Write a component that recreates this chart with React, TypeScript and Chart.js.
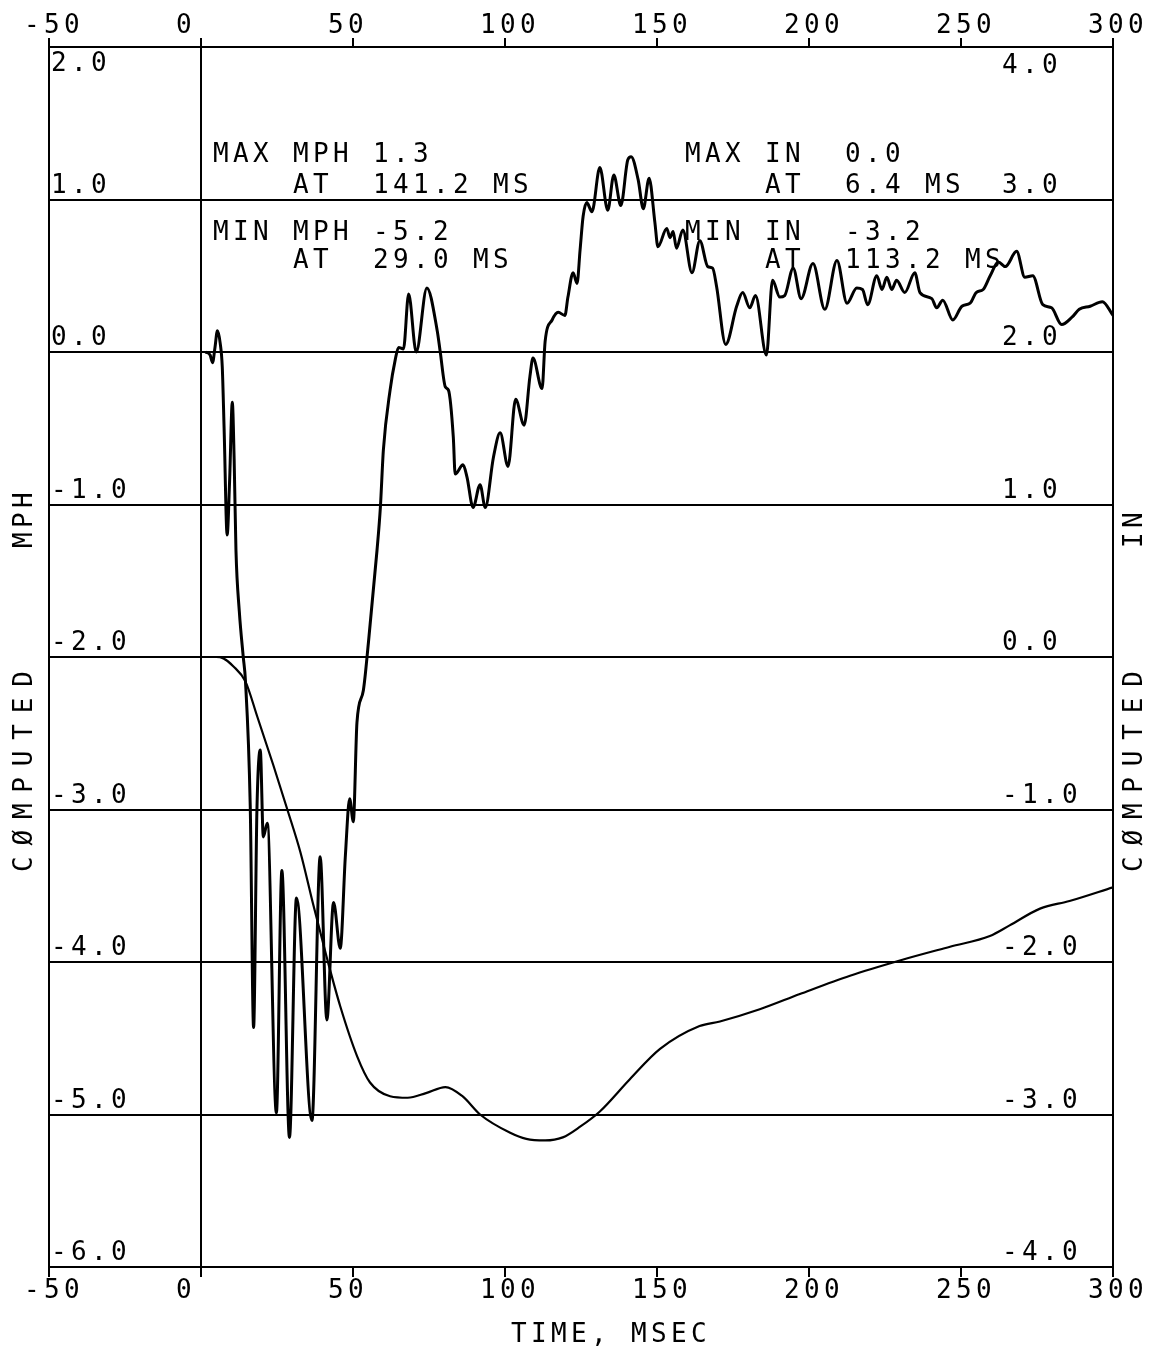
import React, { useEffect, useRef } from "react";
import { Chart, registerables } from "chart.js";

Chart.register(...registerables);

// ---- data ----
const xTicks = [-50, 0, 50, 100, 150, 200, 250, 300];
const mphTicks = [2, 1, 0, -1, -2, -3, -4, -5, -6];
const inTicks = [4, 3, 2, 1, 0, -1, -2, -3, -4];

const velT = [
  1.5, 3.0, 3.8, 4.6, 5.4, 6.3, 7.0, 7.6, 8.6, 9.4,
  10.3, 10.9, 11.5, 12.6, 13.9, 14.6, 16.2, 17.3, 18.4, 19.5,
  20.5, 21.8, 24.8, 26.6, 29.1, 31.4, 36.5, 39.2, 41.4, 43.6,
  45.8, 47.5, 48.9, 50.1, 51.3, 53.4, 55.1, 57.9, 59.0, 60.0,
  62.2, 63.9, 65.0, 66.6, 68.3, 70.8, 74.3, 77.7, 78.7, 80.4,
  81.4, 83.0, 83.6, 86.2, 87.5, 89.5, 91.8, 93.5, 96.2, 98.4,
  101.0, 103.5, 106.3, 108.2, 109.2, 112.2, 113.2, 115.5, 117.5, 119.7,
  120.7, 122.4, 123.7, 124.7, 125.7, 126.9, 128.6, 131.2, 133.8, 135.8,
  138.1, 140.4, 141.5, 143.8, 145.5, 147.4, 149.3, 150.3, 153.2, 154.3,
  155.3, 156.4, 158.5, 161.5, 164.1, 166.7, 168.3, 169.6, 172.6, 176.2,
  178.2, 180.5, 182.4, 186.0, 188.0, 190.4, 192.0, 194.8, 197.4, 201.3,
  205.2, 209.2, 212.5, 215.7, 217.6, 219.3, 222.3, 224.0, 225.6, 227.2,
  228.8, 231.5, 234.8, 236.5, 240.4, 242.0, 244.0, 247.3, 250.3, 253.0,
  255.0, 257.3, 259.6, 262.3, 264.6, 268.3, 271.0, 273.6, 276.9, 279.8,
  283.1, 286.6, 288.9, 292.5, 296.5, 300.0,
];
const velMph = [
  0.0, -0.02, -0.07, 0.03, 0.14, 0.06, -0.1, -0.5, -1.2, -0.85,
  -0.33, -0.7, -1.3, -1.7, -2.0, -2.15, -2.98, -4.43, -3.0, -2.61,
  -3.18, -3.09, -4.99, -3.4, -5.15, -3.58, -5.04, -3.31, -4.38, -3.61,
  -3.91, -3.3, -2.93, -3.08, -2.43, -2.22, -1.9, -1.3, -1.02, -0.64,
  -0.25, -0.05, 0.03, 0.02, 0.38, 0.0, 0.42, 0.14, 0.0, -0.23,
  -0.25, -0.56, -0.8, -0.74, -0.82, -1.02, -0.87, -1.02, -0.69, -0.53,
  -0.75, -0.31, -0.48, -0.16, -0.04, -0.24, 0.07, 0.21, 0.26, 0.24,
  0.36, 0.52, 0.45, 0.67, 0.89, 0.98, 0.92, 1.21, 0.93, 1.16,
  0.96, 1.26, 1.28, 1.13, 0.94, 1.14, 0.85, 0.69, 0.81, 0.75,
  0.79, 0.68, 0.8, 0.52, 0.73, 0.56, 0.55, 0.43, 0.05, 0.3,
  0.39, 0.29, 0.37, -0.02, 0.47, 0.36, 0.37, 0.55, 0.35, 0.58,
  0.28, 0.6, 0.32, 0.42, 0.41, 0.31, 0.5, 0.41, 0.49, 0.41,
  0.47, 0.39, 0.52, 0.39, 0.35, 0.29, 0.34, 0.21, 0.3, 0.32,
  0.39, 0.41, 0.5, 0.59, 0.56, 0.66, 0.49, 0.5, 0.31, 0.29,
  0.18, 0.23, 0.28, 0.3, 0.33, 0.24,
];

const dispT = [
  1.5, 5.0, 7.4, 10.6, 14.6, 18.5, 23.8, 28.4, 32.7, 37.0,
  41.5, 45.8, 51.4, 55.6, 62.2, 68.0, 74.0, 80.4, 86.0, 91.8,
  101.7, 107.0, 113.2, 119.0, 124.7, 131.2, 141.0, 151.0, 164.0, 170.7,
  183.8, 197.0, 213.5, 229.9, 246.4, 259.5, 266.0, 276.0, 285.7, 300.0,
];
const dispIn = [
  0.0, 0.0, -0.01, -0.06, -0.16, -0.39, -0.71, -1.0, -1.28, -1.63,
  -1.98, -2.29, -2.62, -2.79, -2.88, -2.89, -2.86, -2.82, -2.88, -3.0,
  -3.12, -3.16, -3.17, -3.15, -3.08, -2.98, -2.77, -2.57, -2.42, -2.39,
  -2.31, -2.21, -2.09, -1.99, -1.9, -1.83, -1.76, -1.65, -1.6, -1.51,
];

const leftNotes = ["MAX MPH 1.3", "    AT  141.2 MS", "MIN MPH -5.2", "    AT  29.0 MS"];
const rightNotes = ["MAX IN  0.0", "    AT  6.4 MS", "MIN IN  -3.2", "    AT  113.2 MS"];
const noteBaselines = [162, 193, 240, 268];
const xTitle = "TIME, MSEC";
const yTitleWord = "CØMPUTED";
const yLeftUnit = "MPH";
const yRightUnit = "IN";

const FONT = '26px "DejaVu Sans Mono"';

const textPlugin = {
  id: "plotterText",
  afterDraw(chart: any) {
    const ctx = chart.ctx as CanvasRenderingContext2D;
    const sx = chart.scales.x;
    const sy = chart.scales.y;
    const sy2 = chart.scales.y2;
    const area = chart.chartArea;
    ctx.save();

    // outward tick marks on top and bottom axes
    ctx.strokeStyle = "#000";
    ctx.lineWidth = 2;
    xTicks.forEach((v) => {
      const px = Math.round(sx.getPixelForValue(v)) + 0;
      ctx.beginPath();
      ctx.moveTo(px, area.top - 9);
      ctx.lineTo(px, area.top);
      ctx.moveTo(px, area.bottom);
      ctx.lineTo(px, area.bottom + 10);
      ctx.stroke();
    });

    ctx.fillStyle = "#000";
    ctx.font = FONT;
    (ctx as any).letterSpacing = "4.35px";
    ctx.textAlign = "left";
    ctx.textBaseline = "alphabetic";

    // x tick labels top & bottom
    xTicks.forEach((v) => {
      const px = sx.getPixelForValue(v) - 25;
      ctx.fillText(String(v), px, area.top - 14);
      ctx.fillText(String(v), px, area.bottom + 31);
    });
    // left MPH labels
    mphTicks.forEach((v) => {
      const py = sy.getPixelForValue(v);
      const by = v === mphTicks[0] ? py + 24 : py - 7;
      ctx.fillText(v.toFixed(1), area.left + 2, by);
    });
    // right IN labels
    inTicks.forEach((v) => {
      const py = sy2.getPixelForValue(v);
      const by = v === inTicks[0] ? py + 26 : py - 7;
      ctx.fillText(v.toFixed(1), area.right - 111, by);
    });
    // annotations
    leftNotes.forEach((s, i) => ctx.fillText(s, 213, noteBaselines[i]));
    rightNotes.forEach((s, i) => ctx.fillText(s, 685, noteBaselines[i]));
    // x title
    ctx.fillText(xTitle, 511, area.bottom + 75);

    // rotated y titles
    const drawRot = (s: string, x: number, y: number, ls: string) => {
      ctx.save();
      (ctx as any).letterSpacing = ls;
      ctx.translate(x, y);
      ctx.rotate(-Math.PI / 2);
      ctx.fillText(s, 0, 0);
      ctx.restore();
    };
    drawRot(yTitleWord, 32, 872, "10.8px");
    drawRot(yLeftUnit, 32, 548, "4.35px");
    drawRot(yTitleWord, 1142, 872, "10.8px");
    drawRot(yRightUnit, 1142, 548, "4.35px");
    ctx.restore();
  },
};

export default function App() {
  const ref = useRef<HTMLCanvasElement | null>(null);
  useEffect(() => {
    if (!ref.current) return;
    const chart = new Chart(ref.current, {
      type: "line",
      data: {
        datasets: [
          {
            label: "MPH",
            data: velT.map((t, i) => ({ x: t, y: velMph[i] })),
            xAxisID: "x",
            yAxisID: "y",
            borderColor: "#000",
            borderWidth: 3,
            pointRadius: 0,
            fill: false,
            cubicInterpolationMode: "monotone",
          },
          {
            label: "IN",
            data: dispT.map((t, i) => ({ x: t, y: dispIn[i] })),
            xAxisID: "x",
            yAxisID: "y2",
            borderColor: "#000",
            borderWidth: 2.2,
            pointRadius: 0,
            fill: false,
            cubicInterpolationMode: "monotone",
          },
        ],
      },
      options: {
        responsive: false,
        animation: false,
        layout: { padding: 0 },
        plugins: { legend: { display: false }, tooltip: { enabled: false } },
        scales: {
          x: {
            type: "linear",
            position: "bottom",
            min: -50,
            max: 300,
            ticks: { stepSize: 50, display: false },
            grid: {
              color: (c: any) => (c.tick && c.tick.value === 0 ? "#000" : "rgba(0,0,0,0)"),
              lineWidth: 2,
              tickColor: "#000",
              tickWidth: 2,
              tickLength: 10,
              drawTicks: true,
            },
            border: { display: true, color: "#000", width: 2 },
            afterFit: (s: any) => {
              s.height = 80;
            },
          },
          x2: {
            type: "linear",
            position: "top",
            min: -50,
            max: 300,
            ticks: { stepSize: 50, display: false },
            grid: { drawOnChartArea: false, tickColor: "#000", tickWidth: 2, tickLength: 9, lineWidth: 2 },
            border: { display: true, color: "#000", width: 2 },
            afterFit: (s: any) => {
              s.height = 47;
            },
          },
          y: {
            type: "linear",
            position: "left",
            min: -6,
            max: 2,
            ticks: { stepSize: 1, display: false },
            grid: { color: "#000", lineWidth: 2, drawTicks: false },
            border: { display: true, color: "#000", width: 2 },
            afterFit: (s: any) => {
              s.width = 49;
            },
          },
          y2: {
            type: "linear",
            position: "right",
            min: -4,
            max: 4,
            ticks: { stepSize: 1, display: false },
            grid: { drawOnChartArea: false, drawTicks: false },
            border: { display: true, color: "#000", width: 2 },
            afterFit: (s: any) => {
              s.width = 43;
            },
          },
        },
      } as any,
      plugins: [textPlugin],
    });
    return () => chart.destroy();
  }, []);
  return (
    <div style={{ position: "absolute", left: 0, top: 0, width: 1156, height: 1347, background: "#fff" }}>
      <canvas ref={ref} width={1156} height={1347} style={{ display: "block" }} />
    </div>
  );
}
